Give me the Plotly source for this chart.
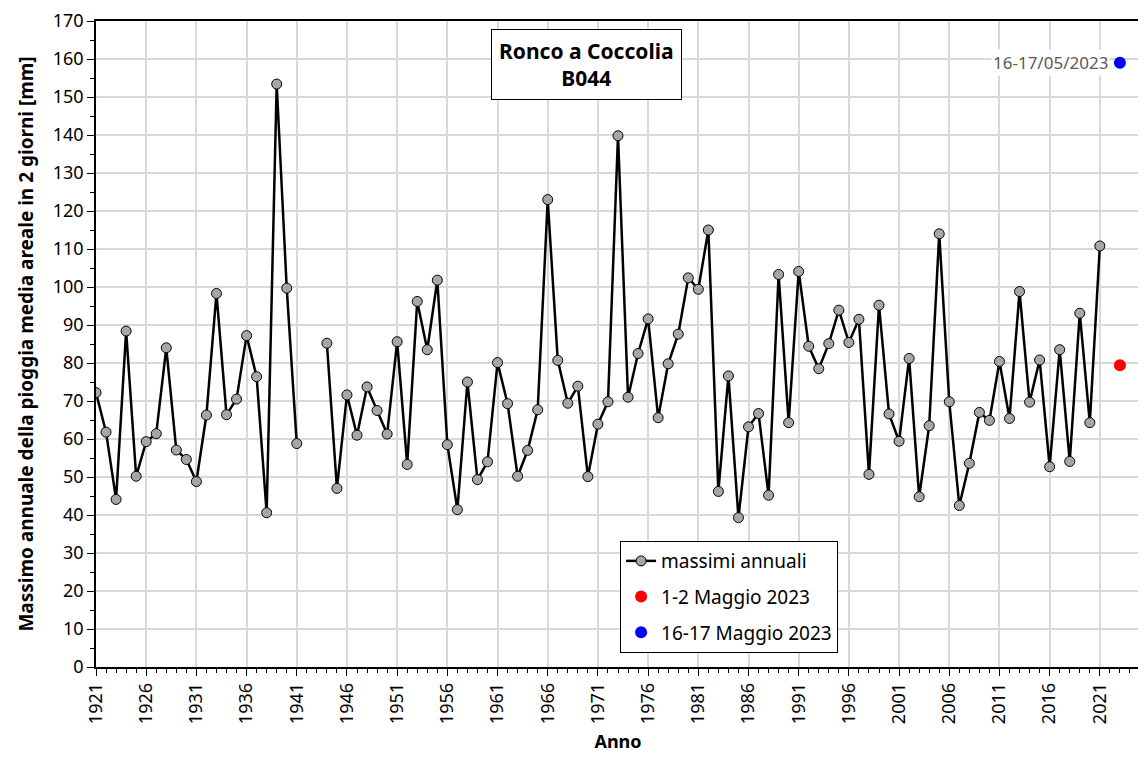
import plotly.graph_objects as go

years = list(range(1921, 2022))
values = [72.2, 61.8, 44.1, 88.4, 50.2, 59.3, 61.4, 84.0, 57.1, 54.6,
          48.8, 66.3, 98.3, 66.4, 70.5, 87.2, 76.4, 40.6, 153.4, 99.7,
          58.8, None, None, 85.2, 47.0, 71.6, 61.0, 73.7, 67.5, 61.3,
          85.6, 53.3, 96.2, 83.5, 101.8, 58.5, 41.4, 75.0, 49.3, 54.0,
          80.1, 69.3, 50.2, 57.0, 67.7, 123.0, 80.7, 69.4, 73.9, 50.1,
          63.9, 69.8, 139.8, 71.0, 82.5, 91.6, 65.6, 79.8, 87.6, 102.4,
          99.4, 115.0, 46.2, 76.6, 39.3, 63.2, 66.7, 45.2, 103.3, 64.3,
          104.1, 84.4, 78.5, 85.1, 93.9, 85.4, 91.5, 50.7, 95.2, 66.6,
          59.4, 81.2, 44.8, 63.5, 114.0, 69.8, 42.5, 53.6, 67.0, 64.9,
          80.4, 65.4, 98.8, 69.7, 80.8, 52.7, 83.5, 54.1, 93.1, 64.3,
          110.8]
event1_year = [2023]
event1_value = [79.4]
event2_year = [2023]
event2_value = [159.0]
event2_label = "16-17/05/2023"

FONT = "Noto Sans"

fig = go.Figure()
fig.add_trace(go.Scatter(
    x=years, y=values, mode="lines+markers", name="massimi annuali",
    legendgroup="a",
    line=dict(color="black", width=2.5),
    marker=dict(size=10, color="#a6a6a6", line=dict(color="black", width=1)),
    connectgaps=False))
fig.add_trace(go.Scatter(
    x=event1_year, y=event1_value, mode="markers", name="1-2 Maggio 2023",
    legendgroup="b",
    marker=dict(size=12, color="#ff0000")))
fig.add_trace(go.Scatter(
    x=event2_year, y=event2_value, mode="markers", name="16-17 Maggio 2023",
    legendgroup="c",
    marker=dict(size=12, color="#0000ff")))

fig.add_annotation(x=event2_year[0], y=event2_value[0], text=event2_label,
                   showarrow=False, xanchor="right", xshift=-10,
                   font=dict(family=FONT, size=17, color="#595959"),
                   bgcolor="white")

fig.add_annotation(xref="paper", yref="paper", x=0.47, y=0.933,
                   text="<b>Ronco a Coccolia<br>B044</b>", showarrow=False,
                   font=dict(family=FONT, size=21, color="black"),
                   bordercolor="black", borderwidth=1, borderpad=7,
                   bgcolor="white", xanchor="center", yanchor="middle")

fig.update_layout(
    width=1138, height=750,
    margin=dict(l=88, r=6, t=13, b=91),
    paper_bgcolor="white", plot_bgcolor="white",
    font=dict(family=FONT, size=16, color="black"),
    showlegend=True,
    legend=dict(x=0.502, y=0.195, xanchor="left", yanchor="top",
                bordercolor="black", borderwidth=1, bgcolor="white",
                font=dict(family=FONT, size=19, color="black"),
                tracegroupgap=8),
    xaxis=dict(range=[1921, 2025], tick0=1921, dtick=5, tickangle=-90,
               automargin=False,
               showgrid=True, gridcolor="#d9d9d9", gridwidth=1.5,
               ticks="outside", ticklen=7, tickcolor="black",
               minor=dict(dtick=1, tick0=1921, ticks="outside", ticklen=4,
                          tickcolor="black", showgrid=False),
               showline=True, linecolor="black", linewidth=1.5, mirror=True,
               zeroline=False,
               tickfont=dict(family=FONT, size=18),
               title=dict(text="<b>Anno</b>", font=dict(family=FONT, size=18),
                          standoff=12)),
    yaxis=dict(range=[0, 170], dtick=10, showgrid=True, gridcolor="#d9d9d9",
               automargin=False,
               gridwidth=1.5, ticks="outside", ticklen=7, tickcolor="black",
               minor=dict(dtick=5, ticks="outside", ticklen=4,
                          tickcolor="black", showgrid=False),
               showline=True, linecolor="black", linewidth=1.5, mirror=True,
               zeroline=False,
               tickfont=dict(family=FONT, size=18),
               title=dict(text="<b>Massimo annuale della pioggia media areale in 2 giorni [mm]</b>",
                          font=dict(family=FONT, size=19), standoff=14)),
)

fig.write_html("out.html")
